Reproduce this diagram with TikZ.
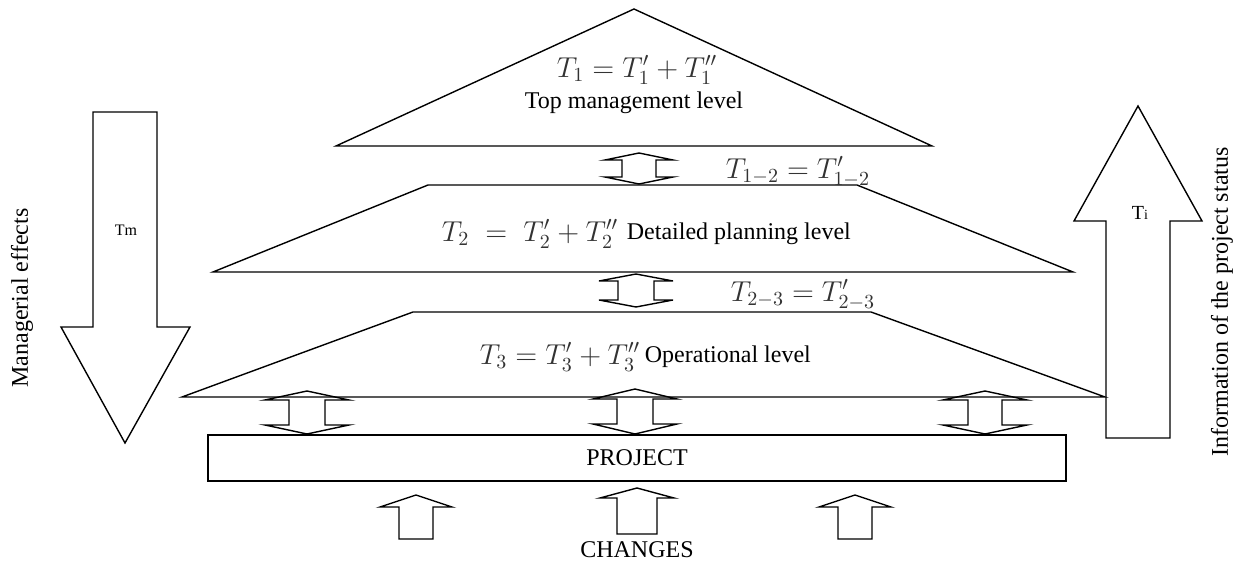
\documentclass[tikz,border=0pt]{standalone}
\usepackage{fontspec}
\setmainfont{Liberation Serif}
\usepackage{amsmath}
\usetikzlibrary{positioning}

% two-headed block arrow between levels: x, top tip, bottom tip, head half width, shaft half width, head length
\newcommand{\levelarrow}[6]{%
    \draw[blockarrow] (#1,#2) -- (#1+#4,#2+#6) -- (#1+#5,#2+#6) -- (#1+#5,#3-#6) -- (#1+#4,#3-#6) -- (#1,#3)
        -- (#1-#4,#3-#6) -- (#1-#5,#3-#6) -- (#1-#5,#2+#6) -- (#1-#4,#2+#6) -- cycle;}
% one-headed block arrow pointing up: x, tip, bottom, head half width, shaft half width, head length
\newcommand{\changearrow}[6]{%
    \draw[blockarrow] (#1,#2) -- (#1+#4,#2+#6) -- (#1+#5,#2+#6) -- (#1+#5,#3) -- (#1-#5,#3) -- (#1-#5,#2+#6)
        -- (#1-#4,#2+#6) -- cycle;}

\begin{document}
\begin{tikzpicture}[x=0.5pt, y=-0.5pt,
    level/.style={draw, line width=0.7pt, line join=miter},
    blockarrow/.style={draw, line width=0.7pt, line join=miter},
    lbl/.style={inner sep=0pt, font=\fontsize{12}{14}\selectfont},
    formula/.style={inner sep=0pt, text=black!80, font=\fontsize{14}{16}\selectfont}]
                \useasboundingbox (0,0) rectangle (1238,561);

                % Levels
                \draw[level] (336,146) -- (634,9) -- (932,146) -- cycle;
                \draw[level] (213,272) -- (428,185) -- (857,185) -- (1073,272) -- cycle;
                \draw[level] (182,397) -- (413,312) -- (871,312) -- (1105,397) -- cycle;

                % Top management level
                \node[formula] (t1) at (637,70) {$T_{1} = T_{1}^{\prime} + T_{1}^{\prime\prime}$};
                \node[lbl] (toplvl) at (634,103) {Top management level};

                % Detailed planning level
                \node[formula] (t2) at (530,234) {$T_{2} \;=\; T_{2}^{\prime} + T_{2}^{\prime\prime}$};
                \node[lbl, right=4pt of t2] (midlvl) {Detailed planning level};

                % Operational level
                \node[formula] (t3) at (560,357) {$T_{3} = T_{3}^{\prime} + T_{3}^{\prime\prime}$};
                \node[lbl, right=2pt of t3] (oplvl) {Operational level};

                % Links between levels
                \node[formula] (t12) at (798,172) {$T_{1-2} = T_{1-2}^{\prime}$};
                \node[formula] (t23) at (803,295) {$T_{2-3} = T_{2-3}^{\prime}$};
                \levelarrow{639}{153}{184}{34}{17}{7}
                \levelarrow{636}{274}{307}{37}{18}{7}

                % Project
                \node[draw, line width=0.7pt, minimum width=429pt, minimum height=23pt,
                      font=\fontsize{12}{14}\selectfont] (project) at (637,458) {PROJECT};
                \levelarrow{307}{391}{434}{42}{18}{9}
                \levelarrow{635}{389}{434}{42}{18}{10}
                \levelarrow{985}{391}{434}{42}{17}{9}

                % Changes
                \changearrow{416}{495}{539}{36}{17}{12}
                \changearrow{637}{488}{534}{37}{20}{10}
                \changearrow{855}{495}{539}{36}{17}{12}
                \node[lbl] (changes) at (637,550) {CHANGES};

                % Managerial effects
                \draw[blockarrow] (93,112) -- (157,112) -- (157,327) -- (190,327) -- (125,443) -- (61,327)
                    -- (93,327) -- cycle;
                \node[inner sep=0pt, font=\fontsize{8}{10}\selectfont] (tm) at (126,230) {Tm};
                \node[lbl, rotate=90] (effects) at (22,298) {Managerial effects};

                % Information of the project status
                \draw[blockarrow] (1106,438) -- (1170,438) -- (1170,221) -- (1202,221) -- (1138,106) -- (1074,221)
                    -- (1106,221) -- cycle;
                \node[inner sep=0pt, font=\fontsize{10}{12}\selectfont] (ti) at (1140,213) {T{\scriptsize i}};
                \node[lbl, rotate=90] (status) at (1222,302) {Information of the project status};
            \end{tikzpicture}
\end{document}
